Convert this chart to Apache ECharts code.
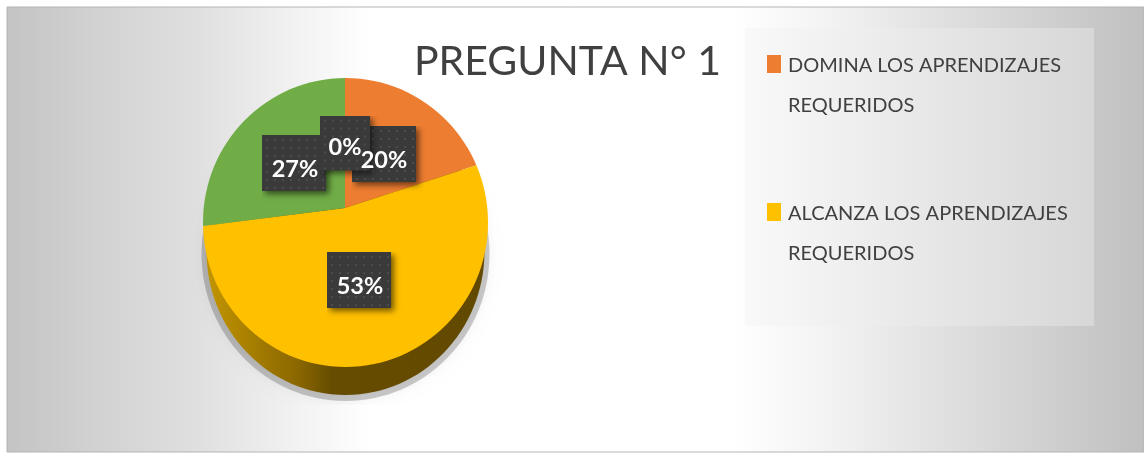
<!DOCTYPE html>
<html>
<head>
<meta charset="utf-8">
<style>html,body{margin:0;padding:0;background:#fff}#c{width:1144px;height:454px}</style>
<script src="https://cdn.jsdelivr.net/npm/echarts@6/dist/echarts.min.js"></script>
</head>
<body>
<div id="c"></div>
<script>
const titleText = 'PREGUNTA N° 1';
const categories = ['DOMINA LOS APRENDIZAJES REQUERIDOS', 'ALCANZA LOS APRENDIZAJES REQUERIDOS', 'PROXIMO A ALCANZAR', 'INICIO'];
const percentages = [20, 53, 27, 0];
const sliceColors = ['#ED7D31', '#FFC000', '#70AD47', '#A5A5A5'];
const legendNames = categories.slice(0, 2);
// dark label boxes: centre and size; text centres
const labelCentres = [[384, 154], [359, 280], [294, 163], [345, 143]];
const labelSizes = [[64, 56], [64, 56], [64, 56], [50, 55]];
const textCentres = [[384, 160], [360, 286], [295, 169], [345, 147]];

const FONT = 'Lato';
const SHADOW_MARGIN = 12;
const bgGradient = {
  type: 'linear', x: 7, y: 0, x2: 1144, y2: 0, global: true,
  colorStops: [
    { offset: 0, color: '#c4c4c4' }, { offset: 0.08, color: '#d2d2d2' }, { offset: 0.17, color: '#e0e0e0' },
    { offset: 0.26, color: '#f3f3f3' }, { offset: 0.32, color: '#ffffff' },
    { offset: 0.64, color: '#ffffff' }, { offset: 0.72, color: '#f3f3f3' },
    { offset: 1, color: '#c0c0c0' }
  ]
};

function tile(w, h) {
  const m = SHADOW_MARGIN;
  const cv = document.createElement('canvas');
  cv.width = w + m; cv.height = h + m;
  const g = cv.getContext('2d');
  g.save();
  g.shadowColor = 'rgba(0,0,0,0.55)'; g.shadowBlur = 6; g.shadowOffsetX = 3; g.shadowOffsetY = 3;
  g.fillStyle = '#3a3a3a'; g.fillRect(0, 0, w, h);
  g.restore();
  g.fillStyle = '#4c4c4c';
  for (let y = 4; y < h - 1; y += 8) for (let x = 4; x < w - 1; x += 8) {
    g.fillRect(x, y, 2, 2);
  }
  return cv;
}

const pieBase = {
  type: 'pie', center: [345, 208], radius: 166,
  startAngle: 90, clockwise: true,
  avoidLabelOverlap: false, stillShowZeroSum: true, silent: true,
  labelLine: { show: false }
};

const chart = echarts.init(document.getElementById('c'), null, { renderer: 'canvas' });
chart.setOption({
  animation: false,
  backgroundColor: '#ffffff',
  title: {
    text: titleText, left: 409, top: 36,
    textStyle: { fontFamily: FONT, fontSize: 41, fontWeight: 'normal', color: '#404040' }
  },
  legend: {
    orient: 'vertical', left: 767, top: 2, padding: 0,
    data: legendNames,
    // a 14x18 square sitting at the top of a 14x22 box, so that it lines up with the first text line
    icon: 'path://M0,0H14V18H0Z M0,22H14V22Z',
    itemWidth: 14, itemHeight: 22, itemGap: 20,
    selectedMode: false, z: 5,
    formatter: n => '\n' + n.replace(' REQUERIDOS', '\nREQUERIDOS'),
    textStyle: { fontFamily: FONT, fontSize: 20, lineHeight: 40, color: '#404040', padding: [8, 0, 0, 2] }
  },
  graphic: [
    { type: 'rect', z: -10, shape: { x: 7, y: 7, width: 1137, height: 445 },
      style: { fill: bgGradient, stroke: '#b4b4b4', lineWidth: 1 } },
    { type: 'rect', z: -9, shape: { x: 745, y: 28, width: 349, height: 298 },
      style: { fill: { type: 'linear', x: 0, y: 0, x2: 1, y2: 0,
        colorStops: [{ offset: 0, color: '#f9f9f9' }, { offset: 1, color: '#d7d7d7' }] } } },
    { type: 'ellipse', z: -8, shape: { cx: 345.5, cy: 254, rx: 144, ry: 147 },
      style: { fill: 'rgba(0,0,0,0.2)', shadowBlur: 12, shadowColor: 'rgba(0,0,0,0.25)' } },
    { type: 'rect', z: -7, shape: { x: 170, y: 405, width: 350, height: 30 }, style: { fill: bgGradient } },
    { type: 'ellipse', z: -6, shape: { cx: 345.5, cy: 251, rx: 139, ry: 144 },
      style: { fill: { type: 'linear', x: 206, y: 0, x2: 485, y2: 0, global: true,
        colorStops: [{ offset: 0, color: '#c29500' }, { offset: 0.33, color: '#8a6700' },
                     { offset: 0.45, color: '#664c00' }, { offset: 1, color: '#624900' }] } } }
  ],
  series: [
    Object.assign({}, pieBase, {
      // slices and dark boxes
      label: { show: true, position: 'inside', formatter: ' ', fontSize: 10 },
      labelLayout: p => ({
        x: labelCentres[p.dataIndex][0] + SHADOW_MARGIN / 2,
        y: labelCentres[p.dataIndex][1] + SHADOW_MARGIN / 2,
        align: 'center', verticalAlign: 'middle'
      }),
      data: categories.map((name, i) => ({
        name, value: percentages[i],
        itemStyle: { color: sliceColors[i] },
        label: {
          width: labelSizes[i][0] + SHADOW_MARGIN, height: labelSizes[i][1] + SHADOW_MARGIN,
          backgroundColor: { image: tile(labelSizes[i][0], labelSizes[i][1]) }
        }
      }))
    }),
    Object.assign({}, pieBase, {
      // the percentages, drawn above every box
      itemStyle: { color: 'transparent' },
      label: {
        show: true, position: 'inside', formatter: '{c}%',
        fontFamily: FONT, fontSize: 23.5, fontWeight: 'bold', color: '#ffffff'
      },
      labelLayout: p => ({
        x: textCentres[p.dataIndex][0], y: textCentres[p.dataIndex][1],
        align: 'center', verticalAlign: 'middle'
      }),
      data: categories.map((name, i) => ({ name, value: percentages[i] }))
    })
  ]
});

// the top face of the pie is seen in perspective: its apex sits above the centre of its outline
const pieView = chart.getViewOfSeriesModel(chart.getModel().getSeriesByIndex(0));
pieView.group.setClipPath(new echarts.graphic.Ellipse({ shape: { cx: 345.5, cy: 222.5, rx: 142.5, ry: 144.5 } }));
chart.getZr().refresh();
</script>
</body>
</html>
